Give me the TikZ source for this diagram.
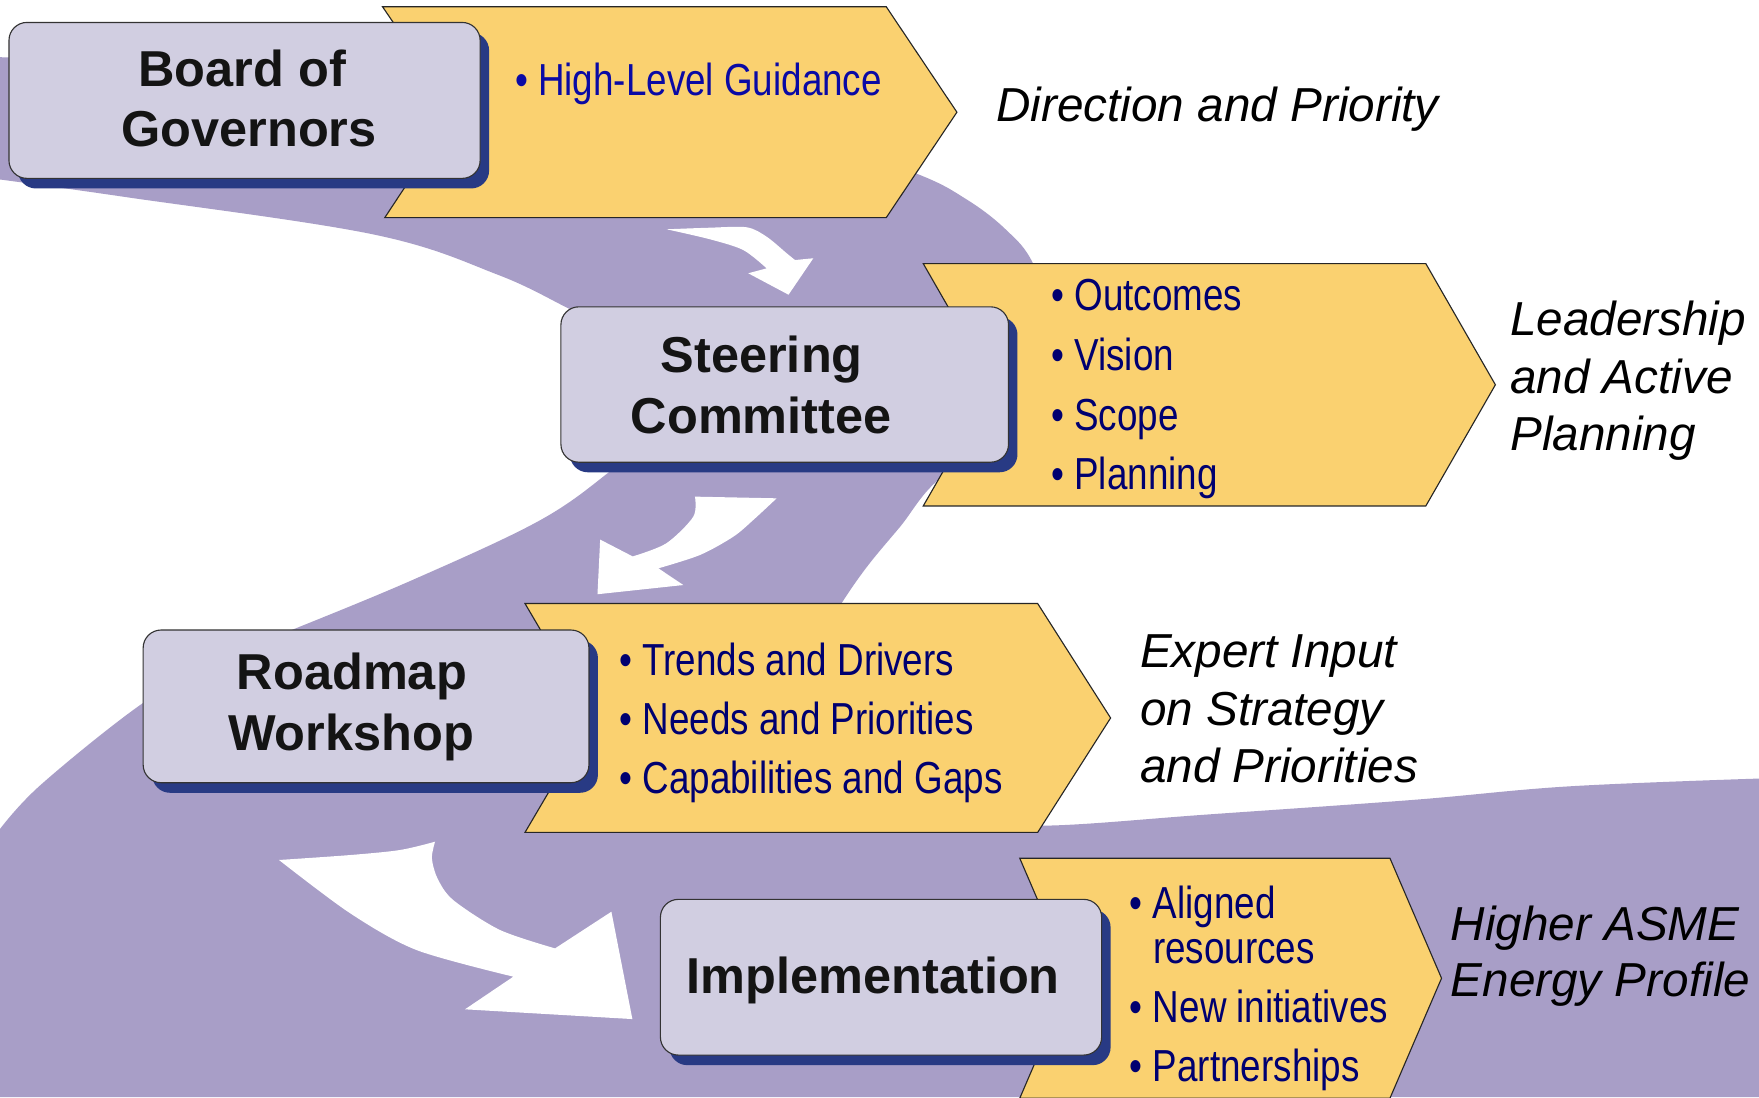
\documentclass[tikz,border=0pt]{standalone}
\usepackage{fontspec}
\setmainfont{Liberation Sans}
\newfontfamily\narrowfont{Liberation Sans}[FakeStretch=0.82]
\usetikzlibrary{shadows}
\definecolor{bandpurple}{RGB}{168,158,199}
\definecolor{chevfill}{RGB}{250,209,112}
\definecolor{boxfill}{RGB}{209,206,225}
\definecolor{shadowblue}{RGB}{40,58,132}
\definecolor{listnavy}{RGB}{0,0,112}
\definecolor{guideblue}{RGB}{10,10,165}
\definecolor{titleblack}{RGB}{20,20,20}
\tikzset{
  band/.style={fill=bandpurple},
  flowarrow/.style={fill=white},
  chevron/.style={fill=chevfill, draw=black!85, line width=1pt},
  stagebox/.style={draw=black!80, line width=1pt, fill=boxfill, rounded corners=16pt,
    inner sep=0pt, general shadow={fill=shadowblue, shadow xshift=8pt, shadow yshift=-9pt}},
  titletext/.style={font=\fontsize{45}{54}\selectfont\bfseries, text=titleblack, inner sep=0pt, anchor=base},
  listtext/.style={font=\narrowfont\fontsize{40}{48}\selectfont, text=listnavy, inner sep=0pt, anchor=base west},
  notetext/.style={font=\fontsize{42.5}{51.5}\selectfont\itshape, text=black, inner sep=0pt, anchor=base west}
}
\begin{document}
\begin{tikzpicture}[x=1pt,y=-1pt]
\useasboundingbox (0,0) rectangle (1568,978);
\clip (0,0) rectangle (1568,978);
\fill[white] (0,0) rectangle (1568,978);

% purple band
\fill[band] plot[smooth, tension=0.6] coordinates {(0,51) (200,58) (450,80) (700,115) (815,154) (862,178) (897,205) (921,235) (945,300) (920,380) (841,424) (802,470) (773,505) (750,538) (728,575) (718,630) (745,700) (840,731) (932,736) (1077,726) (1260,713) (1398,701) (1568,694)}
  -- (1568,978) -- (0,978)
  -- plot[smooth, tension=0.6] coordinates {(0,739) (37,699) (127,627) (200,585) (259,562) (370,516) (481,464) (544,420) (590,380) (560,300) (511,277) (444,245) (333,209) (111,175.5) (0,160)}
  -- cycle;

% white flow arrows
\fill[flowarrow] plot[smooth] coordinates {(594.3,204.4) (632,203) (665.6,202.6) (683.4,211) (701.3,225.8) (708.7,231.8)}
  -- (725,230.2) -- (702.9,262.7) -- (667,243.6)
  -- plot[smooth] coordinates {(683.4,239.2) (662.6,222.9) (632.9,213.3) (594.3,204.4)} -- cycle;
\fill[flowarrow] (619.5,442.7) -- plot[smooth] coordinates {(692.3,444.2) (671.5,463.5) (653.7,478.4) (624,494.7) (586.9,506.6)}
  -- (609.1,521.5) -- (532.6,529.7) -- (535,481)
  -- plot[smooth] coordinates {(564,496) (594,484.3) (618,460.6) (619.5,442.7)} -- cycle;
\fill[flowarrow] plot[smooth] coordinates {(248.7,766.6) (312,762.2) (356.6,757.7) (387.8,750.3)}
  -- plot[smooth] coordinates {(387.8,750.3) (385,765) (390,783) (404,802.3) (445.7,829) (494.8,845.4)}
  -- (545,812.7) -- (563.7,908.4) -- (414.5,899.7)
  -- plot[smooth] coordinates {(457.6,870.6) (371.4,846.9) (312,814) (248.7,766.6)} -- cycle;

% chevrons
\draw[chevron] (341,6) -- (790,6) -- (853,100) -- (790,194) -- (343,194) -- (405,100) -- cycle;
\draw[chevron] (823,235) -- (1271,235) -- (1333,343) -- (1271,451) -- (823,451) -- (885,343) -- cycle;
\draw[chevron] (468,538) -- (925,538) -- (990,640) -- (925,742) -- (468,742) -- (528,640) -- cycle;
\draw[chevron] (909,765) -- (1239,765) -- (1285,872) -- (1239,979) -- (909,979) -- (955,872) -- cycle;

% stage boxes
\node[stagebox, minimum width=420pt, minimum height=139pt] (board) at (218,89.5) {};
\node[stagebox, minimum width=399pt, minimum height=138.5pt] (steer) at (699.5,342.75) {};
\node[stagebox, minimum width=397.4pt, minimum height=136.1pt] (road) at (326.3,629.65) {};
\node[stagebox, minimum width=393.3pt, minimum height=138.8pt] (impl) at (785.35,871.1) {};

% box titles
\node[titletext] (boardA) at (216,77.3) {Board of};
\node[titletext] (boardB) at (222,130.7) {Governors};
\node[titletext] (steerA) at (679,332) {Steering};
\node[titletext] (steerB) at (678.5,386.3) {Committee};
\node[titletext] (roadA) at (313.7,615) {Roadmap};
\node[titletext] (roadB) at (313,669) {Workshop};
\node[titletext] (implA) at (778.4,885.5) {Implementation};

% bullet lists
\node[listtext, text=guideblue] (guide) at (459,85) {• High-Level Guidance};
\node[listtext] (outc) at (937,277) {• Outcomes};
\node[listtext] (visn) at (937,330) {• Vision};
\node[listtext] (scop) at (937,383.3) {• Scope};
\node[listtext] (plan) at (937,436.5) {• Planning};
\node[listtext] (trend) at (552,601.7) {• Trends and Drivers};
\node[listtext] (needs) at (552,654.3) {• Needs and Priorities};
\node[listtext] (capab) at (552,707.2) {• Capabilities and Gaps};
\node[listtext] (align) at (1007,818.6) {• Aligned};
\node[listtext] (resrc) at (1027.6,858.8) {resources};
\node[listtext] (initv) at (1007,911.7) {• New initiatives};
\node[listtext] (partn) at (1007,964.3) {• Partnerships};

% outcome notes
\node[notetext] (noteA) at (888,108.5) {Direction and Priority};
\node[notetext] (noteB1) at (1346,299.5) {Leadership};
\node[notetext] (noteB2) at (1346,350.5) {and Active};
\node[notetext] (noteB3) at (1346,401.5) {Planning};
\node[notetext] (noteC1) at (1016,595) {Expert Input};
\node[notetext] (noteC2) at (1016,646.5) {on Strategy};
\node[notetext] (noteC3) at (1016,697.5) {and Priorities};
\node[notetext] (noteD1) at (1293,838) {Higher ASME};
\node[notetext] (noteD2) at (1293,888.5) {Energy Profile};
\end{tikzpicture}
\end{document}
